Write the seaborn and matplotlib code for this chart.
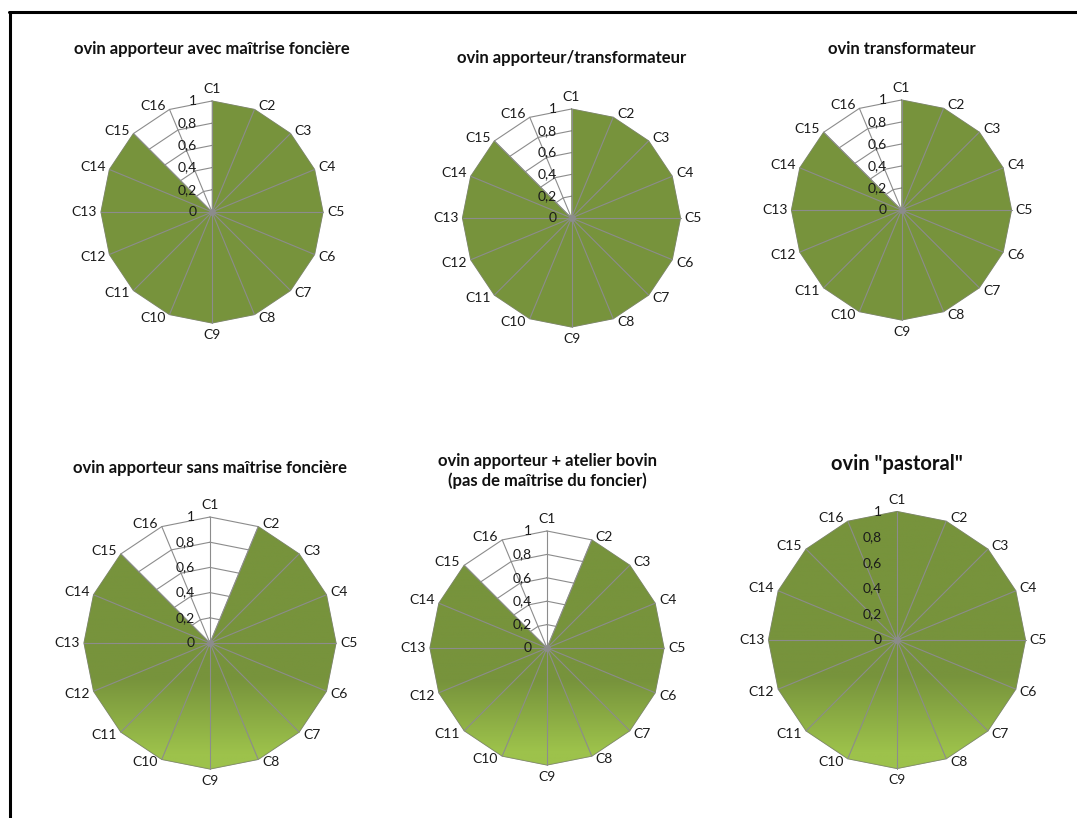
"""Six radar charts (C1..C16 criteria) for sheep farm types."""
import numpy as np
import matplotlib

matplotlib.use("Agg")
import matplotlib.pyplot as plt
from matplotlib.patches import Polygon
from matplotlib.lines import Line2D
from matplotlib.colors import LinearSegmentedColormap
import seaborn as sns

sns.set_theme(style="white")
plt.rcParams["font.family"] = ["Lato", "DejaVu Sans"]

# ---- data -------------------------------------------------------------
categories = ["C1", "C2", "C3", "C4", "C5", "C6", "C7", "C8",
              "C9", "C10", "C11", "C12", "C13", "C14", "C15", "C16"]
ring_levels = [0.2, 0.4, 0.6, 0.8, 1.0]
tick_values = [0, 0.2, 0.4, 0.6, 0.8, 1]
tick_labels = ["0", "0,2", "0,4", "0,6", "0,8", "1"]

avec_maitrise = [1, 1, 1, 1, 1, 1, 1, 1, 1, 1, 1, 1, 1, 1, 1, 0]
apporteur_transfo = [1, 1, 1, 1, 1, 1, 1, 1, 1, 1, 1, 1, 1, 1, 1, 0]
transformateur = [1, 1, 1, 1, 1, 1, 1, 1, 1, 1, 1, 1, 1, 1, 1, 0]
sans_maitrise = [0, 1, 1, 1, 1, 1, 1, 1, 1, 1, 1, 1, 1, 1, 1, 0]
atelier_bovin = [0, 1, 1, 1, 1, 1, 1, 1, 1, 1, 1, 1, 1, 1, 1, 0]
pastoral = [1, 1, 1, 1, 1, 1, 1, 1, 1, 1, 1, 1, 1, 1, 1, 1]

titles = ["ovin apporteur avec maîtrise foncière",
          "ovin apporteur/transformateur",
          "ovin transformateur",
          "ovin apporteur sans maîtrise foncière",
          "ovin apporteur + atelier bovin\n(pas de maîtrise du foncier)",
          "ovin \"pastoral\""]

W, H = 1077, 818
DARK = "#77933C"
LIGHT = "#9DC24B"
GRID = "#8C8C8C"
TXT = "#1a1a1a"
grad_cmap = LinearSegmentedColormap.from_list("grad", [LIGHT, DARK])

angles = np.pi / 2 - 2 * np.pi * np.arange(len(categories)) / len(categories)
PT = 0.72  # points per pixel at dpi 100


def radar(cx, cy, r, values, title, title_y, gradient=False, title_size=12):
    lim = 1.45
    side = 2 * lim * r
    ax = plt.gcf().add_axes([(cx - lim * r) / W, 1 - (cy + lim * r) / H,
                             side / W, side / H])
    ax.set_xlim(-lim, lim)
    ax.set_ylim(-lim, lim)
    ax.axis("off")

    cos, sin = np.cos(angles), np.sin(angles)

    # polygon rings behind the data
    for lv in ring_levels:
        sns.lineplot(x=np.append(cos, cos[0]) * lv, y=np.append(sin, sin[0]) * lv,
                     sort=False, estimator=None, color=GRID, lw=0.8, ax=ax)

    vals = np.asarray(values, dtype=float)
    pts = np.column_stack([cos * vals, sin * vals])
    if gradient:
        patch = Polygon(pts, closed=True, facecolor="none", edgecolor="none")
        ax.add_patch(patch)
        yy = np.linspace(-1, 1, 300)
        t = np.clip((yy + 0.88) / 0.6, 0, 1)
        img = ax.imshow(t[:, None], extent=(-1, 1, -1, 1), origin="lower",
                        cmap=grad_cmap, vmin=0, vmax=1, aspect="auto", zorder=2)
        img.set_clip_path(patch)
    else:
        ax.add_patch(Polygon(pts, closed=True, facecolor=DARK,
                             edgecolor="none", zorder=2))

    # outer boundary and spokes on top
    ax.plot(np.append(pts[:, 0], pts[0, 0]), np.append(pts[:, 1], pts[0, 1]),
            color="#7a8a5a", lw=0.6, zorder=3, alpha=0.6)
    for c, s in zip(cos, sin):
        ax.plot([0, c], [0, s], color=GRID, lw=0.8, zorder=4)
    ax.plot(0, 0, "o", color=GRID, ms=4, zorder=5)

    for v, lab in zip(tick_values, tick_labels):
        ax.annotate(lab, (0, v), xytext=(-10.8, 0), textcoords="offset points",
                    ha="right", va="center", fontsize=10, color=TXT, zorder=6)

    for name, c, s in zip(categories, cos, sin):
        if abs(c) < 1e-6:
            ax.annotate(name, (c, s), xytext=(0, 6 * PT * np.sign(s)),
                        textcoords="offset points", ha="center",
                        va="bottom" if s > 0 else "top", fontsize=10, color=TXT)
        else:
            dy = 0 if abs(s) < 1e-6 else 3 * PT * np.sign(s)
            ax.annotate(name, (c, s), xytext=(4 * PT * np.sign(c), dy),
                        textcoords="offset points",
                        ha="left" if c > 0 else "right", va="center",
                        fontsize=10, color=TXT)

    plt.gcf().text(cx / W, 1 - title_y / H, title, ha="center", va="center",
                   fontsize=title_size, fontweight="bold", color="#111111",
                   linespacing=1.2)


fig = plt.figure(figsize=(W / 100, H / 100), dpi=100)

radar(212, 212, 111, avec_maitrise, titles[0], 49)
radar(571.5, 218, 109, apporteur_transfo, titles[1], 58)
radar(901.5, 210, 110, transformateur, titles[2], 49)
radar(210, 643, 126, sans_maitrise, titles[3], 468, gradient=True)
radar(547, 648, 117, atelier_bovin, titles[4], 471, gradient=True)
radar(897, 640, 128.5, pastoral, titles[5], 464, gradient=True, title_size=14.5)

# frame lines of the original sheet (left and top)
fig.add_artist(Line2D([9.5 / W, 9.5 / W], [0, 1 - 12 / H], transform=fig.transFigure,
                      color="black", lw=2.2))
fig.add_artist(Line2D([8.5 / W, 1], [1 - 12 / H, 1 - 12 / H], transform=fig.transFigure,
                      color="black", lw=2.2))

fig.savefig("out.png", dpi=100)
